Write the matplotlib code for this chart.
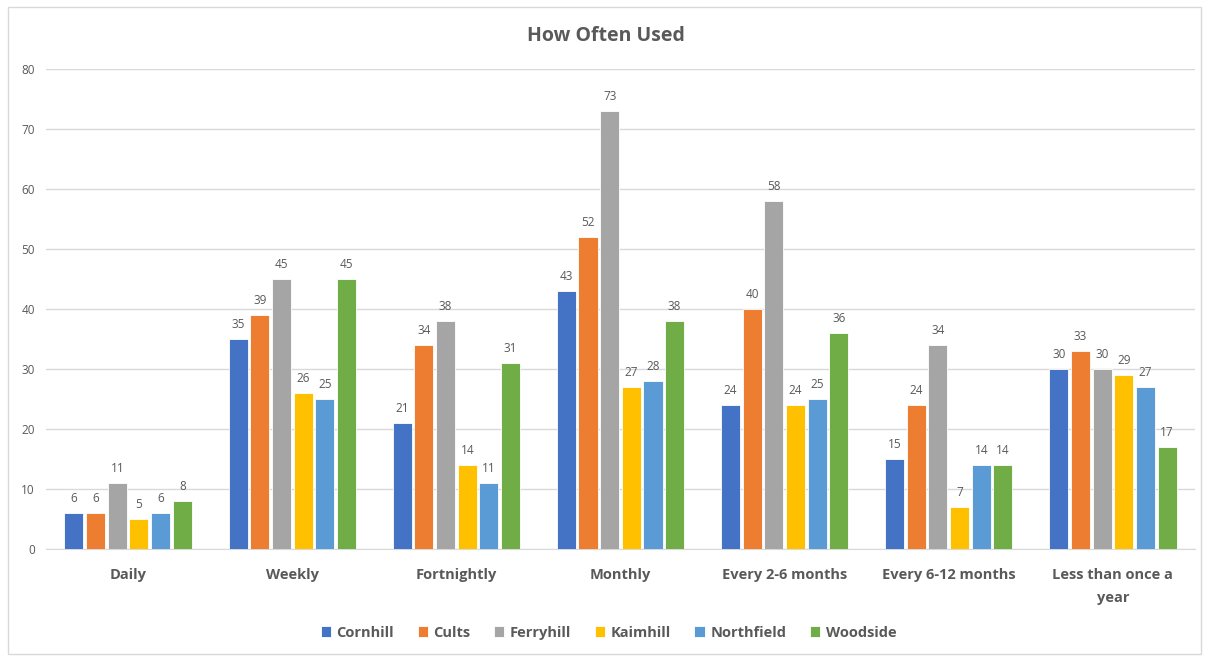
import numpy as np
import matplotlib.pyplot as plt
from matplotlib.patches import Rectangle

categories = ['Daily', 'Weekly', 'Fortnightly', 'Monthly', 'Every 2-6 months',
              'Every 6-12 months', 'Less than once a\nyear']
series = ['Cornhill', 'Cults', 'Ferryhill', 'Kaimhill', 'Northfield', 'Woodside']
cornhill = [6, 35, 21, 43, 24, 15, 30]
cults = [6, 39, 34, 52, 40, 24, 33]
ferryhill = [11, 45, 38, 73, 58, 34, 30]
kaimhill = [5, 26, 14, 27, 24, 7, 29]
northfield = [6, 25, 11, 28, 25, 14, 27]
woodside = [8, 45, 31, 38, 36, 14, 17]
colors = ['#4472C4', '#ED7D31', '#A5A5A5', '#FFC000', '#5B9BD5', '#70AD47']

plt.rcParams['font.family'] = ['Open Sans', 'DejaVu Sans']

fig = plt.figure(figsize=(12.05, 6.57), dpi=100)
ax = fig.add_axes([0.0382, 0.1644, 0.9535, 0.7306])

# light frame round the chart
fig.patches.append(Rectangle((0.007, 0.004), 0.99, 0.985, transform=fig.transFigure,
                             fill=False, edgecolor='#d9d9d9', linewidth=1))

data = [cornhill, cults, ferryhill, kaimhill, northfield, woodside]
x = np.arange(len(categories))
slot = 0.132
width = 0.116
for i, (name, vals) in enumerate(zip(series, data)):
    pos = x + (i - 2.5) * slot
    ax.bar(pos, vals, width=width, color=colors[i], edgecolor='white', linewidth=0.6, label=name, zorder=3)
    for px, v in zip(pos, vals):
        ax.annotate(str(v), (px, v), xytext=(0, 6), textcoords='offset points',
                    ha='center', va='bottom', fontsize=8.5, color='#595959')

ax.set_xlim(-0.5, len(categories) - 0.5)
ax.set_ylim(0, 80)
ax.set_yticks(range(0, 81, 10))
ax.yaxis.grid(True, color='#d9d9d9', linewidth=1, zorder=0)
ax.set_axisbelow(True)
for s in ['top', 'right', 'left']:
    ax.spines[s].set_visible(False)
ax.spines['bottom'].set_color('#d9d9d9')
ax.tick_params(axis='both', length=0)
ax.tick_params(axis='y', labelsize=8.5, labelcolor='#595959', pad=8)
ax.set_xticks(x)
ax.set_xticklabels(categories, fontsize=10.5, fontweight='bold', color='#595959', linespacing=1.75)
ax.tick_params(axis='x', pad=14)

fig.text(0.503, 0.945, 'How Often Used', ha='center', va='center', fontsize=14,
         fontweight='bold', color='#595959')

fig.legend(loc='center', bbox_to_anchor=(0.505, 0.037), ncol=6, frameon=False,
           handlelength=0.7, handleheight=0.7, handletextpad=0.4, columnspacing=1.6,
           prop={'size': 10.5, 'weight': 'bold'}, labelcolor='#595959')

fig.savefig('out.png', dpi=100, facecolor='white')
